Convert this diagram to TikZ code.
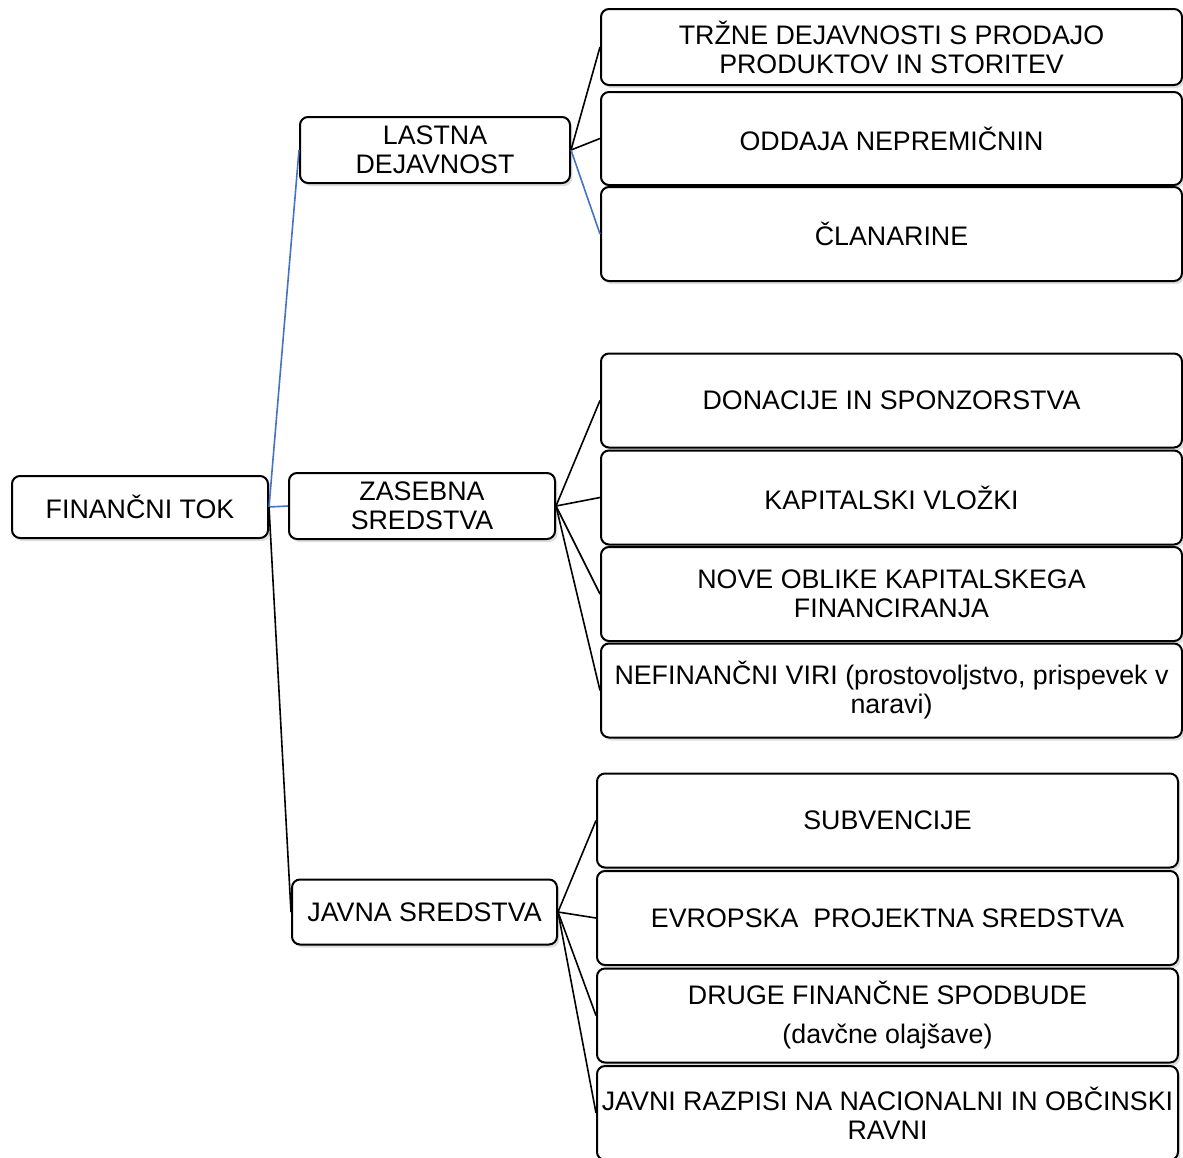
\documentclass[tikz,border=0pt]{standalone}
\usepackage{fontspec}
\setmainfont{Liberation Sans}
\usetikzlibrary{shadows}
\definecolor{linkblue}{RGB}{68,114,196}
\tikzset{
	box/.style={draw, line width=1pt, rounded corners=4pt, fill=white, align=center,
		font=\fontsize{13.4}{14.5}\selectfont,
		drop shadow={shadow xshift=1.2pt, shadow yshift=-1.5pt, opacity=0.25}},
	leaf/.style={box, inner xsep=1pt, minimum width=290.5pt, minimum height=47pt},
	link/.style={line width=0.8pt},
}
\begin{document}
\begin{tikzpicture}[x=0.5pt,y=-0.5pt]
	\useasboundingbox (0,0) rectangle (1183,1157);
	% levo
	\node[box, minimum width=128pt, minimum height=31pt] at (140,507) (tok) {FINANČNI TOK};
	% sredina
	\node[box, minimum width=135pt, minimum height=33pt] at (435,150) (lastna) {LASTNA\\DEJAVNOST};
	\node[box, minimum width=133pt, minimum height=33pt] at (422,506) (zasebna) {ZASEBNA\\SREDSTVA};
	\node[box, minimum width=132.5pt, minimum height=32.5pt] at (424.5,912) (javna) {JAVNA SREDSTVA};
	
	% lastna dejavnost
	\node[leaf, minimum height=38pt] at (891.5,47) (trzne) {TRŽNE DEJAVNOSTI S PRODAJO\\PRODUKTOV IN STORITEV};
	\node[leaf, minimum height=46.5pt] at (891.5,138.5) (oddaja) {ODDAJA NEPREMIČNIN};
	\node[leaf] at (891.5,234) (clanarine) {ČLANARINE};
	
	% zasebna sredstva
	\node[leaf] at (891.5,400.5) (donacije) {DONACIJE IN SPONZORSTVA};
	\node[leaf] at (891.5,497.5) (kapital) {KAPITALSKI VLOŽKI};
	\node[leaf] at (891.5,594) (nove) {NOVE OBLIKE KAPITALSKEGA\\FINANCIRANJA};
	\node[leaf] at (891.5,690.5) (nefin) {NEFINANČNI VIRI (prostovoljstvo, prispevek v\\naravi)};
	
	% javna sredstva
	\node[leaf] at (887.5,820.5) (subv) {SUBVENCIJE};
	\node[leaf] at (887.5,918) (evropska) {EVROPSKA\ \ PROJEKTNA SREDSTVA};
	\node[leaf] at (887.5,1015.5) (druge) {DRUGE FINANČNE SPODBUDE\\[5pt](davčne olajšave)};
	\node[leaf] at (887.5,1113) (razpisi) {JAVNI RAZPISI NA NACIONALNI IN OBČINSKI\\RAVNI};
	
	\path[link] (tok.east) edge[linkblue] (lastna.west)
	(tok.east) edge[linkblue] (zasebna.west)
	(tok.east) edge (javna.west);
	\path[link] (lastna.east) edge (trzne.west)
	(lastna.east) edge (oddaja.west)
	(lastna.east) edge[linkblue] (clanarine.west);
	\foreach \n in {donacije,kapital,nove,nefin}
		\draw[link] (zasebna.east) -- (\n.west);
	\foreach \n in {subv,evropska,druge,razpisi}
		\draw[link] (javna.east) -- (\n.west);
\end{tikzpicture}
\end{document}
